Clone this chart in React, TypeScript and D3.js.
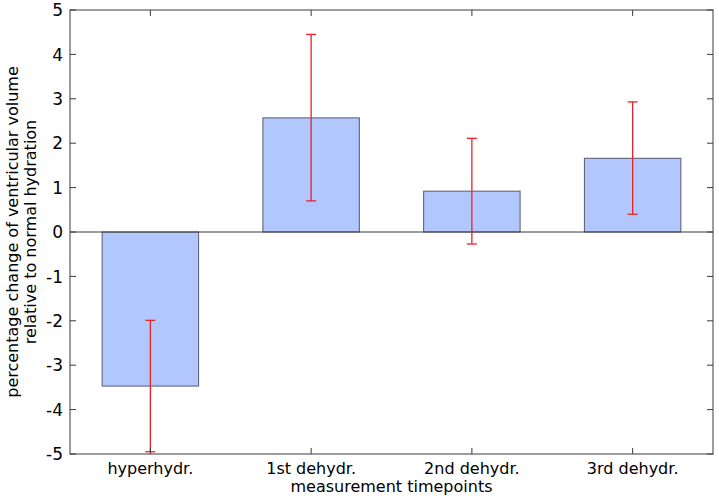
import React from "react";
import * as d3 from "d3";

const categories = ["hyperhydr.", "1st dehydr.", "2nd dehydr.", "3rd dehydr."];
const values = [-3.47, 2.57, 0.92, 1.66];
const errLow = [-4.95, 0.7, -0.27, 0.4];
const errHigh = [-1.99, 4.45, 2.11, 2.93];
const yTicks = [-5, -4, -3, -2, -1, 0, 1, 2, 3, 4, 5];

export default function App() {
  const W = 719, H = 503;
  const left = 70, right = 713, top = 10, bottom = 454;
  const x = d3.scaleLinear().domain([0.5, 4.5]).range([left, right]);
  const y = d3.scaleLinear().domain([-5, 5]).range([bottom, top]);
  const bw = 0.6;
  const axisColor = "#3a3a3a";
  const font = "'DejaVu Sans', Verdana, sans-serif";
  const tl = 6;
  return (
    <svg width={W} height={H} style={{ position: "absolute", left: 0, top: 0 }} fontFamily={font}>
      <rect x={0} y={0} width={W} height={H} fill="#fff" />
      {categories.map((c, i) => {
        const v = values[i];
        const x0 = x(i + 1 - bw / 2), x1 = x(i + 1 + bw / 2);
        return (
          <rect key={c} x={x0} y={Math.min(y(v), y(0))} width={x1 - x0} height={Math.abs(y(v) - y(0))}
            fill="#b3c7ff" stroke="#555a6e" strokeWidth={1} />
        );
      })}
      <line x1={left} x2={right} y1={y(0)} y2={y(0)} stroke={axisColor} strokeWidth={1} />
      {categories.map((c, i) => {
        const cx = x(i + 1);
        return (
          <g key={"e" + c} stroke="#e8222a" strokeWidth={1.3}>
            <line x1={cx} x2={cx} y1={y(errLow[i])} y2={y(errHigh[i])} />
            <line x1={cx - 5} x2={cx + 5} y1={y(errLow[i])} y2={y(errLow[i])} />
            <line x1={cx - 5} x2={cx + 5} y1={y(errHigh[i])} y2={y(errHigh[i])} />
          </g>
        );
      })}
      <rect x={left} y={top} width={right - left} height={bottom - top} fill="none" stroke={axisColor} strokeWidth={1} />
      {yTicks.map((t) => (
        <g key={"y" + t}>
          <line x1={left} x2={left + tl} y1={y(t)} y2={y(t)} stroke={axisColor} />
          <line x1={right} x2={right - tl} y1={y(t)} y2={y(t)} stroke={axisColor} />
          <text x={left - 7} y={y(t)} dy="0.36em" textAnchor="end" fontSize={17} fill="#000">{t}</text>
        </g>
      ))}
      {categories.map((c, i) => (
        <g key={"x" + c}>
          <line x1={x(i + 1)} x2={x(i + 1)} y1={bottom} y2={bottom - tl} stroke={axisColor} />
          <line x1={x(i + 1)} x2={x(i + 1)} y1={top} y2={top + tl} stroke={axisColor} />
          <text x={x(i + 1)} y={bottom + 20} textAnchor="middle" fontSize={16} fill="#000">{c}</text>
        </g>
      ))}
      <text x={(left + right) / 2} y={bottom + 38} textAnchor="middle" fontSize={16} fill="#000">measurement timepoints</text>
      <g transform={`translate(0, ${(top + bottom) / 2}) rotate(-90)`}>
        <text x={0} y={18} textAnchor="middle" fontSize={16} fill="#000">percentage change of ventricular volume</text>
        <text x={0} y={36} textAnchor="middle" fontSize={16} fill="#000">relative to normal hydration</text>
      </g>
    </svg>
  );
}
